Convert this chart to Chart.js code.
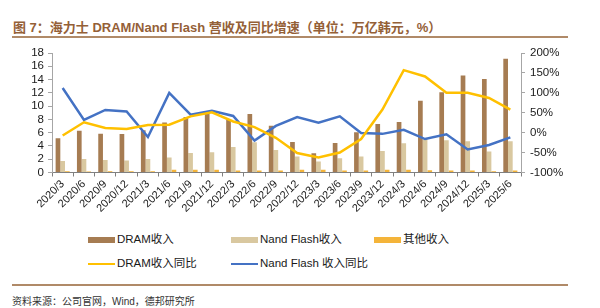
<!DOCTYPE html>
<html>
<head>
<meta charset="utf-8">
<script src="https://cdn.jsdelivr.net/npm/chart.js@4/dist/chart.umd.min.js"></script>
<style>
  body { margin: 0; background: #fff; width: 600px; height: 308px; position: relative; overflow: hidden;
         font-family: "Liberation Sans", Arial, "Noto Sans CJK SC", sans-serif; }
  #title { position: absolute; left: 13px; top: 17px; font-size: 13px; font-weight: bold; color: #946037;
           font-family: "Liberation Sans", Arial, "Noto Sans CJK SC", sans-serif; white-space: nowrap; }
  .rule { position: absolute; left: 12px; width: 556px; height: 2px; background: #b08a68; }
  #chart { position: absolute; left: 0; top: 40px; }
  #legend { position: absolute; left: 0; top: 232px; width: 600px; height: 44px; }
  .item { position: absolute; font-size: 11.5px; color: #1a1a1a; white-space: nowrap; line-height: 14px; }
  .item span.sw { display: inline-block; width: 27px; vertical-align: middle; margin-right: 2px; }
  #source { position: absolute; left: 12px; top: 293px; font-size: 10px; color: #333; white-space: nowrap; }
</style>
</head>
<body>
<div id="title">图 7：海力士 DRAM/Nand Flash 营收及同比增速（单位：万亿韩元，%）</div>
<div class="rule" style="top:36px"></div>
<canvas id="chart" width="600" height="190"></canvas>
<div id="legend"></div>
<div class="rule" style="top:284px"></div>
<div id="source">资料来源：公司官网，Wind，德邦研究所</div>
<script>
const quarters = ['2020/3', '2020/6', '2020/9', '2020/12', '2021/3', '2021/6', '2021/9', '2021/12',
    '2022/3', '2022/6', '2022/9', '2022/12', '2023/3', '2023/6', '2023/9', '2023/12',
    '2024/3', '2024/6', '2024/9', '2024/12', '2025/3', '2025/6'];

// 万亿韩元
const dramRev = [5.15, 6.3, 5.85, 5.8, 6.35, 7.55, 8.35, 8.9, 7.95, 8.8, 7.05, 4.6,
    2.9, 4.45, 6.05, 7.3, 7.6, 10.8, 12.1, 14.6, 14.1, 17.15];
const nandRev = [1.75, 2.05, 1.9, 1.8, 2.05, 2.25, 2.95, 3.05, 3.85, 4.55, 3.4, 2.4,
    1.65, 2.15, 2.4, 3.25, 4.4, 5.0, 4.85, 4.7, 3.15, 4.7];
const otherRev = [0.2, 0.15, 0.2, 0.2, 0.2, 0.4, 0.4, 0.4, 0.3, 0.3, 0.3, 0.4,
    0.4, 0.3, 0.3, 0.4, 0.4, 0.35, 0.3, 0.3, 0.2, 0.3];

// 同比 %
const dramYoy = [-7, 26, 12, 9, 19, 20, 41, 51, 28, 14, -13, -51,
    -62, -50, -16, 58, 157, 141, 100, 100, 87, 58];
const nandYoy = [112, 32, 57, 53, -11, 100, 45, 55, 42, -20, 17, 39,
    25, 41, -1, -3, 7, -16, -4, -42, -31, -12];

const leftTicks = { min: 0, max: 18, step: 2 };
const rightTicks = { min: -100, max: 200, step: 50 };

const colors = {
    dram: '#a67c52',
    nand: '#d9c8a0',
    other: '#f4b43a',
    dramYoy: '#ffc000',
    nandYoy: '#4472c4'
};

const tickFont = { family: '"Liberation Sans", Arial, sans-serif', size: 11.5 };

const ctx = document.getElementById('chart').getContext('2d');
const chart = new Chart(ctx, {
    type: 'bar',
    data: {
        labels: quarters,
        datasets: [
            { type: 'line', label: 'DRAM收入同比', data: dramYoy, yAxisID: 'y1', borderColor: colors.dramYoy,
              backgroundColor: colors.dramYoy, borderWidth: 2.5, pointRadius: 0, tension: 0, order: 0 },
            { type: 'line', label: 'Nand Flash 收入同比', data: nandYoy, yAxisID: 'y1', borderColor: colors.nandYoy,
              backgroundColor: colors.nandYoy, borderWidth: 2.5, pointRadius: 0, tension: 0, order: 0 },
            { label: 'DRAM收入', data: dramRev, yAxisID: 'y', backgroundColor: colors.dram, order: 1 },
            { label: 'Nand Flash收入', data: nandRev, yAxisID: 'y', backgroundColor: colors.nand, order: 1 },
            { label: '其他收入', data: otherRev, yAxisID: 'y', backgroundColor: colors.other, order: 1 }
        ]
    },
    options: {
        responsive: false,
        animation: false,
        devicePixelRatio: 1,
        layout: { padding: { top: 13, left: 0, right: 0, bottom: 0 } },
        datasets: { bar: { categoryPercentage: 0.66, barPercentage: 1.0 } },
        plugins: { legend: { display: false }, tooltip: { enabled: false } },
        scales: {
            x: {
                grid: { drawOnChartArea: false, drawTicks: true, tickLength: 4, color: '#808080', offset: true },
                border: { color: '#808080', width: 1 },
                ticks: { font: { ...tickFont, size: 11 }, color: '#1a1a1a', maxRotation: 45, minRotation: 45,
                         autoSkip: false, padding: 1 },
                afterFit: s => { s.height = 57.5; }
            },
            y: {
                position: 'left',
                min: leftTicks.min, max: leftTicks.max,
                grid: { drawOnChartArea: false, tickLength: 4, color: '#a6a6a6' },
                border: { color: '#a6a6a6' },
                ticks: { stepSize: leftTicks.step, autoSkip: false, font: tickFont, color: '#1a1a1a', padding: 4 },
                afterFit: s => { s.width = 52; }
            },
            y1: {
                position: 'right',
                min: rightTicks.min, max: rightTicks.max,
                grid: { drawOnChartArea: false, tickLength: 4, color: '#a6a6a6' },
                border: { color: '#a6a6a6' },
                ticks: { stepSize: rightTicks.step, autoSkip: false, font: tickFont, color: '#1a1a1a', padding: 5,
                         callback: v => v + '%' },
                afterFit: s => { s.width = 79; }
            }
        }
    }
});

// legend in the report's two-row grid
const legendSlots = [
    { ds: 2, x: 88, y: 0 }, { ds: 3, x: 231, y: 0 }, { ds: 4, x: 374, y: 0 },
    { ds: 0, x: 88, y: 24 }, { ds: 1, x: 231, y: 24 }
];
const legendEl = document.getElementById('legend');
legendSlots.forEach(slot => {
    const ds = chart.data.datasets[slot.ds];
    const isLine = ds.type === 'line';
    const div = document.createElement('div');
    div.className = 'item';
    div.style.left = slot.x + 'px';
    div.style.top = slot.y + 'px';
    const sw = document.createElement('span');
    sw.className = 'sw';
    sw.style.height = isLine ? '2px' : '6px';
    sw.style.background = isLine ? ds.borderColor : ds.backgroundColor;
    div.appendChild(sw);
    div.appendChild(document.createTextNode(ds.label));
    legendEl.appendChild(div);
});
</script>
</body>
</html>
